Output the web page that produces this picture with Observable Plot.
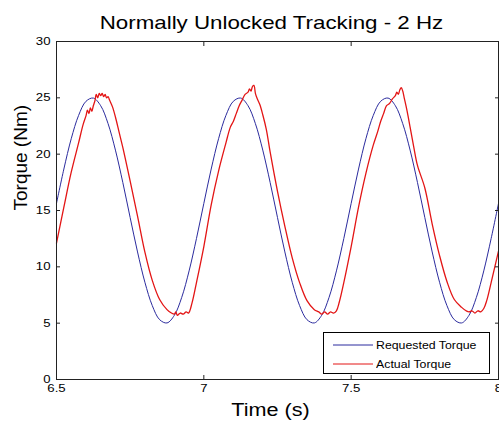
<!DOCTYPE html>
<html>
<head>
<meta charset="utf-8">
<script src="https://cdn.jsdelivr.net/npm/d3@7"></script>
<script src="https://cdn.jsdelivr.net/npm/@observablehq/plot@0.6"></script>
<style>
  body { margin: 0; background: #fff; }
  #wrap { position: relative; width: 499px; height: 423px; overflow: hidden; }
  #legend { position: absolute; left: 323px; top: 332px; width: 167px; height: 42px; box-sizing: border-box;
    border: 1px solid #000; background: #fff; font-family: "Liberation Sans", Arial, sans-serif; font-size: 11px; color: #000; }
  .row { position: absolute; left: 9px; height: 14px; display: flex; align-items: center; }
  .row svg { display: block; }
  .row span { display: inline-block; margin-left: 3px; transform: scaleX(1.12); transform-origin: left center; white-space: nowrap; }
</style>
</head>
<body>
<div id="wrap"></div>
<script>
const titleText = "Normally Unlocked Tracking - 2 Hz";
const xLabel = "Time (s)";
const yLabel = "Torque (Nm)";
const seriesNames = ["Requested Torque", "Actual Torque"];
const seriesColors = ["#2b2b9e", "#e31515"];
const xTicks = [6.5, 7, 7.5, 8];
const yTicks = [0, 5, 10, 15, 20, 25, 30];

// Requested torque
const blueT = [6.5,6.525,6.55,6.575,6.6,6.625,6.65,6.675,6.7,6.725,6.75,6.775,6.8,6.825,6.85,6.875,6.9,6.925,6.95,6.975,
  7.0,7.025,7.05,7.075,7.1,7.125,7.15,7.175,7.2,7.225,7.25,7.275,7.3,7.325,7.35,7.375,7.4,7.425,7.45,7.475,
  7.5,7.525,7.55,7.575,7.6,7.625,7.65,7.675,7.7,7.725,7.75,7.775,7.8,7.825,7.85,7.875,7.9,7.925,7.95,7.975,8.0];
const blueV = [15.63,18.68,21.37,23.44,24.69,24.98,24.30,22.71,20.36,17.49,14.37,11.32,8.63,6.56,5.31,5.02,5.70,7.29,9.64,12.51,
  15.63,18.68,21.37,23.44,24.69,24.98,24.30,22.71,20.36,17.49,14.37,11.32,8.63,6.56,5.31,5.02,5.70,7.29,9.64,12.51,
  15.63,18.68,21.37,23.44,24.69,24.98,24.30,22.71,20.36,17.49,14.37,11.32,8.63,6.56,5.31,5.02,5.70,7.29,9.64,12.51,15.63];

// Actual torque
const redT = [6.500,6.525,6.550,6.575,6.590,6.600,6.605,6.610,6.615,6.620,6.625,6.630,6.635,6.640,6.645,6.650,6.655,6.660,6.665,6.670,6.675,6.680,6.690,6.700,6.712,6.725,6.750,6.775,6.800,6.825,6.850,6.875,6.890,6.900,6.905,6.910,6.920,6.930,6.940,6.948,6.960,6.975,
  7.000,7.025,7.050,7.075,7.090,7.100,7.110,7.120,7.130,7.140,7.150,7.155,7.160,7.165,7.170,7.175,7.180,7.190,7.200,7.212,7.225,7.250,7.275,7.300,7.325,7.350,7.375,7.390,7.400,7.410,7.420,7.430,7.440,7.450,7.460,7.475,
  7.500,7.525,7.550,7.575,7.590,7.600,7.610,7.620,7.630,7.640,7.650,7.655,7.660,7.665,7.670,7.675,7.680,7.690,7.700,7.712,7.725,7.750,7.775,7.800,7.825,7.850,7.875,7.890,7.900,7.910,7.920,7.930,7.940,7.950,7.960,7.975,8.000];
const redV = [12.1,15.3,18.4,21.0,22.6,23.4,23.9,23.6,24.1,23.8,24.3,24.7,25.3,25.0,25.4,25.2,25.4,25.1,25.3,25.0,25.1,24.8,24.2,23.3,22.0,20.6,17.6,14.5,11.3,8.8,7.1,6.2,5.9,5.8,6.0,5.7,5.9,5.8,6.0,5.9,6.8,8.6,
  11.8,15.5,18.5,21.0,22.4,22.9,23.6,24.3,24.8,25.3,25.5,25.8,25.6,26.0,26.1,25.4,25.0,24.4,23.5,22.2,20.2,16.7,13.6,10.8,8.6,7.0,6.2,6.0,5.8,6.0,5.8,6.0,5.9,6.1,6.9,8.6,
  11.8,15.3,18.3,20.8,22.0,22.9,23.6,24.3,24.5,24.9,25.2,25.5,25.3,25.7,25.9,25.6,25.0,23.8,22.4,20.7,19.0,17.0,13.8,11.0,8.7,7.1,6.4,6.1,6.0,6.1,5.9,6.1,6.0,6.3,7.0,8.6,11.4];

const blue = blueT.map((t, i) => ({t, v: blueV[i]}));
const red = redT.map((t, i) => ({t, v: redV[i]}));

const chart = Plot.plot({
  width: 499,
  height: 423,
  marginLeft: 56,
  marginRight: 1,
  marginTop: 41,
  marginBottom: 44,
  style: {fontFamily: "'Liberation Sans', Arial, sans-serif", fontSize: "11px", color: "#000", background: "#fff", overflow: "visible"},
  x: {domain: [6.5, 8]},
  y: {domain: [0, 30]},
  marks: [
    Plot.line(blue, {x: "t", y: "v", stroke: seriesColors[0], strokeWidth: 1, curve: "catmull-rom"}),
    Plot.line(red, {x: "t", y: "v", stroke: seriesColors[1], strokeWidth: 1.3, curve: "catmull-rom"}),
    Plot.frame({stroke: "#222", strokeWidth: 1}),
    Plot.axisX(xTicks, {anchor: "bottom", tickSize: -4, tickPadding: 9, tickFormat: d => String(d), label: null, stroke: "#222"}),
    Plot.axisX(xTicks, {anchor: "top", tickSize: -4, tickFormat: () => "", label: null, stroke: "#222"}),
    Plot.axisY(yTicks, {anchor: "left", tickSize: -4, tickPadding: 10, tickFormat: d => String(d), label: null, stroke: "#222"}),
    Plot.axisY(yTicks, {anchor: "right", tickSize: -4, tickFormat: () => "", label: null, stroke: "#222"}),
    Plot.text([titleText], {text: d => d, frameAnchor: "top", dx: -6, dy: -13, fontSize: 18.6, lineAnchor: "bottom", fill: "#000"}),
    Plot.text([xLabel], {text: d => d, frameAnchor: "bottom", dx: -7, dy: 24, fontSize: 18, lineAnchor: "top", fill: "#000"}),
    Plot.text([yLabel], {text: d => d, frameAnchor: "left", dx: -36, rotate: -90, fontSize: 19, fill: "#000"})
  ]
});

const wrap = document.getElementById("wrap");
wrap.appendChild(chart);

// stretch horizontal texts to match the reference's wide glyphs
d3.select(chart).selectAll("text").each(function() {
  const s = this.textContent;
  if (!s || s === yLabel) return;
  const len = this.getComputedTextLength();
  if (len > 0) {
    this.setAttribute("textLength", (len * 1.2).toFixed(1));
    this.setAttribute("lengthAdjust", "spacingAndGlyphs");
  }
});

// legend
const legend = document.createElement("div");
legend.id = "legend";
seriesNames.forEach((name, i) => {
  const row = document.createElement("div");
  row.className = "row";
  row.style.top = (5 + i * 19) + "px";
  row.innerHTML = `<svg width="40" height="14"><line x1="0" x2="40" y1="7" y2="7" stroke="${seriesColors[i]}" stroke-width="1"/></svg><span>${name}</span>`;
  legend.appendChild(row);
});
wrap.appendChild(legend);
</script>
</body>
</html>
